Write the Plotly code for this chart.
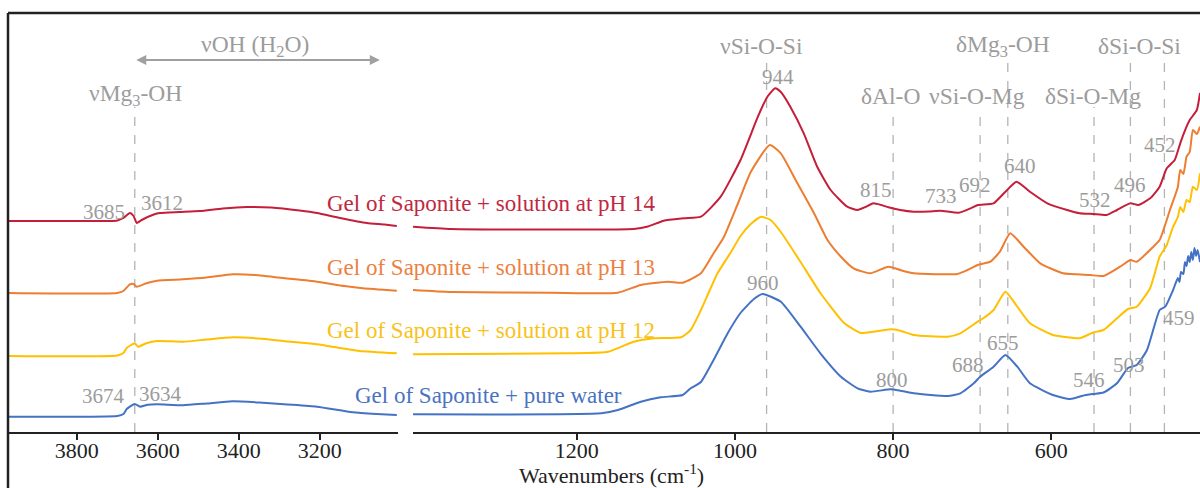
import plotly.graph_objects as go

# ---------------- data ----------------
SERIES_NAMES = ["Gel of Saponite + solution at pH 14",
                "Gel of Saponite + solution at pH 13",
                "Gel of Saponite + solution at pH 12",
                "Gel of Saponite + pure water"]
COLORS = ["#C41E3A", "#ED7D31", "#FFC000", "#4472C4"]
TEXT_COLORS = ["#C0283F", "#EC8040", "#F8C21A", "#4A72C2"]

# OH-stretching region (wavenumbers, cm-1) and stacked absorbance (a.u.)
OH_WN_PH14 = [3970, 3720, 3700, 3685, 3669, 3660, 3652, 3640, 3610, 3595, 3546, 3496, 3440,
              3380, 3320, 3250, 3207, 3150, 3084, 3040, 3010]
OH_AB_PH14 = [2.11, 2.11, 2.115, 2.14, 2.19, 2.16, 2.09, 2.12, 2.175, 2.19, 2.20, 2.21, 2.235,
              2.25, 2.245, 2.215, 2.19, 2.14, 2.09, 2.075, 2.06]
OH_WN_PH13 = [3970, 3700, 3685, 3669, 3660, 3652, 3630, 3602, 3538, 3480, 3415, 3360, 3280,
              3207, 3140, 3094, 3010]
OH_AB_PH13 = [1.39, 1.39, 1.41, 1.477, 1.48, 1.453, 1.485, 1.513, 1.527, 1.545, 1.577, 1.57,
              1.535, 1.503, 1.46, 1.437, 1.413]
OH_WN_PH12 = [3970, 3700, 3685, 3677, 3657, 3649, 3630, 3602, 3538, 3480, 3415, 3350, 3280,
              3207, 3150, 3101, 3010]
OH_AB_PH12 = [0.76, 0.765, 0.79, 0.84, 0.887, 0.853, 0.885, 0.91, 0.903, 0.925, 0.947, 0.935,
              0.905, 0.877, 0.84, 0.81, 0.787]
OH_WN_WATER = [3970, 3700, 3685, 3677, 3657, 3644, 3625, 3602, 3538, 3480, 3415, 3350, 3280,
               3207, 3119, 3060, 3010]
OH_AB_WATER = [0.153, 0.16, 0.18, 0.23, 0.28, 0.253, 0.272, 0.277, 0.267, 0.285, 0.307, 0.295,
               0.275, 0.253, 0.197, 0.18, 0.17]

# Fingerprint region
FP_WN_PH14 = [1407, 1359, 1232, 1128, 1110, 1090, 1064, 1043, 1018, 993, 971, 959,
              949, 942, 930, 913, 896, 879, 858, 845, 835, 825, 815, 806, 791, 774, 755, 740,
              717, 702, 693, 673, 658, 644, 627, 605, 580, 564, 547, 530, 517, 500, 490, 475,
              463, 454, 444, 437, 429, 425, 416, 412]
FP_AB_PH14 = [2.053, 2.03, 2.025, 2.03, 2.055, 2.113, 2.137, 2.153, 2.353, 2.72, 3.153, 3.353,
              3.437, 3.40, 3.253, 2.987, 2.653, 2.42, 2.253, 2.22, 2.25, 2.287, 2.27, 2.247,
              2.22, 2.203, 2.205, 2.213, 2.193, 2.237, 2.27, 2.287, 2.403, 2.503, 2.403, 2.287,
              2.22, 2.187, 2.18, 2.17, 2.22, 2.287, 2.27, 2.337, 2.453, 2.637, 2.72, 2.887,
              3.053, 3.12, 3.22, 3.39]
FP_WN_PH13 = [1407, 1359, 1232, 1148, 1119, 1085, 1066, 1043, 1027, 1014, 996, 980, 956, 942,
              921, 900, 883, 866, 850, 829, 806, 791, 774, 719, 706, 693, 677, 665, 652, 635,
              614, 585, 551, 534, 513, 500, 492, 471, 463, 450, 440, 437, 433, 429, 425, 421,
              416, 412]
FP_AB_PH13 = [1.42, 1.40, 1.393, 1.393, 1.47, 1.503, 1.493, 1.587, 1.787, 1.95, 2.29, 2.60,
              2.87, 2.787, 2.487, 2.187, 1.92, 1.753, 1.637, 1.587, 1.653, 1.62, 1.587, 1.58,
              1.62, 1.67, 1.703, 1.803, 1.987, 1.853, 1.687, 1.587, 1.57, 1.56, 1.653, 1.72,
              1.703, 1.853, 1.92, 2.22, 2.45, 2.62, 2.58, 2.753, 2.80, 3.02, 2.98, 3.053]
FP_WN_PH12 = [1407, 1211, 1160, 1128, 1102, 1068, 1056, 1043, 1022, 1005, 993, 980, 967, 955,
              942, 917, 892, 862, 841, 825, 803, 791, 774, 731, 715, 693, 686, 673, 658,
              643, 627, 598, 576, 564, 547, 534, 517, 503, 492, 475, 463, 454, 446, 440, 437,
              433, 429, 425, 421, 416, 412]
FP_AB_PH12 = [0.777, 0.787, 0.803, 0.903, 0.937, 0.947, 1.02, 1.22, 1.587, 1.80, 1.96, 2.08,
              2.153, 2.12, 2.00, 1.70, 1.39, 1.09, 0.99, 1.003, 1.027, 1.013, 0.97,
              0.953, 0.987, 1.103, 1.137, 1.22, 1.403, 1.253, 1.087, 0.97, 0.945, 0.937, 0.995,
              1.02, 1.137, 1.23, 1.253, 1.44, 1.753, 1.87, 2.053, 2.15, 2.25, 2.20, 2.32, 2.30,
              2.453, 2.42, 2.587]
FP_WN_WATER = [1407, 1169, 1148, 1119, 1094, 1066, 1056, 1043, 1027, 1009, 993, 976, 965, 942,
               917, 892, 866, 845, 829, 803, 791, 774, 731, 715, 698, 690, 673, 658, 643, 627,
               598, 576, 560, 547, 534, 517, 503, 492, 479, 463, 456, 446, 440, 438, 436, 433,
               431, 429, 427, 425, 423, 421, 419, 417, 415, 412]
FP_AB_WATER = [0.177, 0.187, 0.22, 0.303, 0.347, 0.37, 0.437, 0.50, 0.72, 0.99, 1.19, 1.33,
               1.38, 1.303, 1.053, 0.787, 0.553, 0.437, 0.403, 0.427, 0.413, 0.387, 0.36, 0.387,
               0.487, 0.553, 0.653, 0.77, 0.653, 0.487, 0.37, 0.33, 0.363, 0.38, 0.395, 0.487,
               0.64, 0.67, 0.82, 1.22, 1.253, 1.42, 1.54, 1.50, 1.60, 1.58, 1.70, 1.66, 1.76,
               1.70, 1.80, 1.72, 1.84, 1.76, 1.82, 1.70]

LEFT_TICKS = [3800, 3600, 3400, 3200]
RIGHT_TICKS = [1200, 1000, 800, 600]
LEFT_BAND = 3657                      # vMg3-OH reference line
RIGHT_BANDS = [960, 800, 690, 655, 546, 500, 457]
OH_RANGE = [3657, 3052]               # vOH (H2O) arrow span

OH_WN = [OH_WN_PH14, OH_WN_PH13, OH_WN_PH12, OH_WN_WATER]
OH_AB = [OH_AB_PH14, OH_AB_PH13, OH_AB_PH12, OH_AB_WATER]
FP_WN = [FP_WN_PH14, FP_WN_PH13, FP_WN_PH12, FP_WN_WATER]
FP_AB = [FP_AB_PH14, FP_AB_PH13, FP_AB_PH12, FP_AB_WATER]

# ---------------- figure ----------------
FONT = "Liberation Serif"
GREY = "#9C9C9C"
fig = go.Figure()
for i in range(4):
    fig.add_trace(go.Scatter(x=OH_WN[i], y=OH_AB[i], xaxis="x", yaxis="y", mode="lines",
                             line=dict(color=COLORS[i], width=2, shape="spline", smoothing=0.5),
                             showlegend=False, hoverinfo="skip"))
    fig.add_trace(go.Scatter(x=FP_WN[i], y=FP_AB[i], xaxis="x2", yaxis="y", mode="lines",
                             line=dict(color=COLORS[i], width=2, shape="spline", smoothing=0.5),
                             showlegend=False, hoverinfo="skip"))

shapes = []
dash = dict(color="#B4B4B4", width=1.3, dash="dash")
shapes.append(dict(type="line", xref="x", yref="y", x0=LEFT_BAND, x1=LEFT_BAND, y0=0, y1=3.25,
                   line=dash, layer="below"))
band_tops = [3.70, 3.15, 3.24, 3.70, 3.25, 3.70, 3.70]
for wn, top in zip(RIGHT_BANDS, band_tops):
    shapes.append(dict(type="line", xref="x2", yref="y", x0=wn, x1=wn, y0=0, y1=top,
                       line=dash, layer="below"))
# frame: top border and left border
shapes.append(dict(type="line", xref="paper", yref="paper", x0=0, x1=1, y0=1, y1=1,
                   line=dict(color="#222", width=2.5)))
shapes.append(dict(type="line", xref="paper", yref="paper", x0=0, x1=0, y0=-0.14, y1=1,
                   line=dict(color="#222", width=2.5)))
fig.update_layout(shapes=shapes)

ann = []
def label(text, x, y, xref="x2", color=GREY, size=21, xanchor="center"):
    ann.append(dict(text=text, x=x, y=y, xref=xref, yref="y", showarrow=False,
                    font=dict(family=FONT, size=size, color=color), xanchor=xanchor,
                    yanchor="middle"))

# band assignments
BAND_SIZE = 23.5
label("νOH (H<sub>2</sub>O)", 3360, 3.86, xref="x", size=BAND_SIZE)
label("νMg<sub>3</sub>-OH", 3654, 3.37, xref="x", size=BAND_SIZE)
label("νSi-O-Si", 967, 3.86, size=BAND_SIZE)
label("δAl-O", 803, 3.36, size=BAND_SIZE)
label("νSi-O-Mg", 694, 3.36, size=BAND_SIZE)
label("δMg<sub>3</sub>-OH", 661, 3.86, size=BAND_SIZE)
label("δSi-O-Mg", 547, 3.36, size=BAND_SIZE)
label("δSi-O-Si", 488, 3.86, size=BAND_SIZE)
# peak positions
for t, x, y in [("944", 946, 3.55), ("815", 822, 2.42), ("733", 739, 2.36), ("692", 697, 2.47),
                ("640", 639, 2.66), ("532", 545, 2.32), ("496", 500, 2.47), ("452", 462, 2.87),
                ("960", 965, 1.49), ("800", 802, 0.52), ("688", 705, 0.67), ("655", 661, 0.89),
                ("546", 552, 0.52), ("503", 502, 0.67), ("459", 439, 1.14)]:
    label(t, x, y)
for t, x, y in [("3685", 3733, 2.20), ("3612", 3590, 2.29), ("3674", 3733, 0.36),
                ("3634", 3593, 0.38)]:
    label(t, x, y, xref="x")

# series names
for i, (px, y) in enumerate([(0.4056, 2.29), (0.4056, 1.65), (0.4056, 1.02), (0.4035, 0.37)]):
    ann.append(dict(text=SERIES_NAMES[i], x=px, y=y, xref="paper", yref="y", showarrow=False,
                    font=dict(family=FONT, size=23, color=TEXT_COLORS[i]), xanchor="center",
                    yanchor="middle"))

# vOH arrow
ann.append(dict(x=OH_RANGE[1], y=3.72, ax=OH_RANGE[0], ay=3.72, xref="x", yref="y",
                axref="x", ayref="y", text="", showarrow=True, arrowhead=2, arrowside="end+start",
                arrowsize=1, arrowwidth=2, arrowcolor="#A0A0A0"))
# axis title
ann.append(dict(text="Wavenumbers (cm<sup>-1</sup>)", x=0.506, y=-0.1, xref="paper",
                yref="paper", showarrow=False, xanchor="center", yanchor="middle",
                font=dict(family=FONT, size=22, color="#222")))
fig.update_layout(annotations=ann)

axis_common = dict(showline=True, linecolor="#222", linewidth=2, ticks="outside", ticklen=6,
                   tickwidth=1.5, tickcolor="#222", showgrid=False, zeroline=False,
                   ticklabelstandoff=-8,
                   tickfont=dict(family=FONT, size=22, color="#222"), fixedrange=True)
fig.update_layout(
    width=1200, height=488,
    margin=dict(l=8, r=0, t=13, b=56),
    paper_bgcolor="white", plot_bgcolor="white",
    xaxis=dict(domain=[0, 0.3272], range=[3970, 3007], tickvals=LEFT_TICKS, anchor="y",
               **axis_common),
    xaxis2=dict(domain=[0.3398, 1], range=[1407, 412], tickvals=RIGHT_TICKS, anchor="y",
                **axis_common),
    yaxis=dict(range=[0, 4.19], visible=False, fixedrange=True),
    showlegend=False,
)
fig.write_html("out.html", config={"displayModeBar": False},
               post_script="document.body.style.margin='0';document.body.style.overflow='hidden';")
